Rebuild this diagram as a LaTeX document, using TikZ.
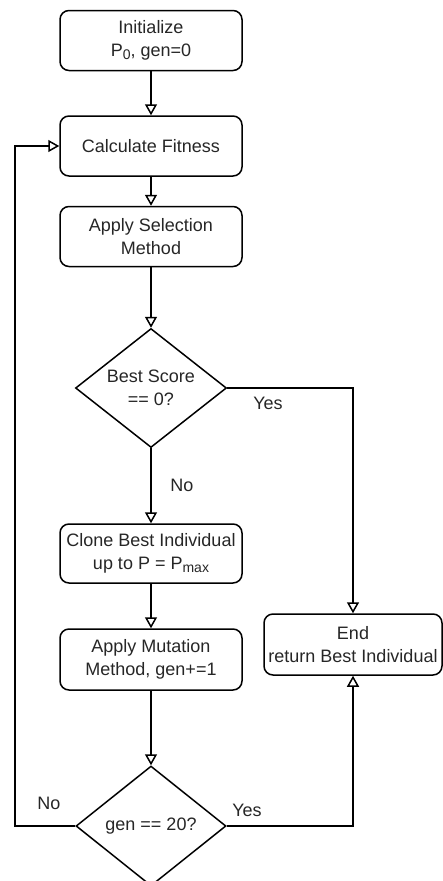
\documentclass[tikz,border=0pt]{standalone}
\usepackage{fontspec}
\setmainfont{Liberation Sans}
\usetikzlibrary{arrows.meta,shapes.geometric}
\newcommand{\mysub}[1]{\raisebox{-0.3ex}{\fontsize{14}{14}\selectfont #1}}
\begin{document}
\begin{tikzpicture}[x=1pt,y=-1pt,
  every node/.style={font=\fontsize{18}{23}\selectfont, text=black!85},
  procbox/.style={draw, line width=1.5pt, rounded corners=9pt, minimum width=182pt, minimum height=60pt, align=center, inner sep=0pt},
  decision/.style={draw, diamond, line width=1.5pt, inner sep=0pt, minimum width=151pt, minimum height=119pt, aspect=1.27, align=center},
  flow/.style={line width=1.5pt, -{Triangle[open, length=11pt, width=12pt, line width=1.5pt]}},
  lbl/.style={inner sep=0pt}
]
\useasboundingbox (0,0) rectangle (442,881);
\node[procbox] (init) at (151,40.5) {Initialize\\P\mysub{0}, gen=0};
\node[procbox] (fit) at (151,146) {Calculate Fitness};
\node[procbox] (sel) at (151,236.5) {Apply Selection\\Method};
\node[decision] (d1) at (151,388) {Best Score\\== 0?};
\node[procbox, minimum height=59pt] (clone) at (151,553.5) {Clone Best Individual\\up to P = P\mysub{max}};
\node[procbox, minimum height=61pt] (mut) at (151,659.5) {Apply Mutation\\Method, gen+=1};
\node[decision, minimum width=150pt, minimum height=120pt] (d2) at (151,826) {gen == 20?};
\node[procbox, minimum width=178pt, minimum height=61pt] (end) at (353,644.5) {End\\return Best Individual};
\coordinate (loopL) at (15,826);

\draw[flow] (init) -- (fit);
\draw[flow] (fit) -- (sel);
\draw[flow] (sel) -- (d1);
\draw[flow] (d1) -- (clone);
\draw[flow] (d1.east) -| (end.north);
\draw[flow] (clone) -- (mut);
\draw[flow] (mut) -- (d2);
\draw[flow] (d2.east) -| (end.south);
\draw[flow] (d2.west) -- (loopL) |- (fit.west);

\node[lbl] (yes1) at (268,403) {Yes};
\node[lbl] (no1) at (182,485) {No};
\node[lbl] (yes2) at (247,810) {Yes};
\node[lbl] (no2) at (49,803) {No};
\end{tikzpicture}
\end{document}
